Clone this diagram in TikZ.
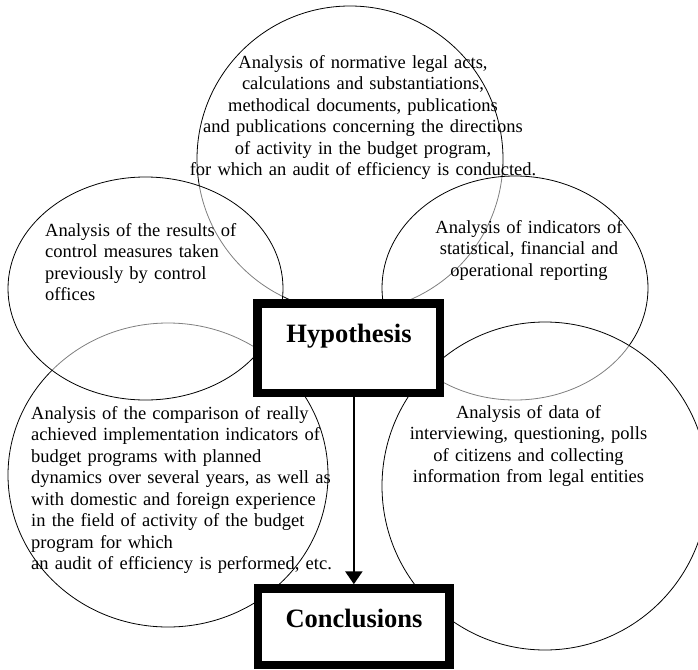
\documentclass[tikz,border=0pt]{standalone}
\usepackage{fontspec}
\setmainfont{Liberation Serif}
\usetikzlibrary{shapes.geometric,arrows.meta}

\tikzset{
  bubble/.style={ellipse, draw=black, line width=0.8pt, fill=white, fill opacity=0.5,
    inner sep=0pt, outer sep=0pt},
  bodytext/.style={inner sep=0pt, text=black, font=\fontsize{18.5}{21.5}\selectfont},
  ctrtext/.style={bodytext, text width=420pt, align=center, anchor=base},
  lefttext/.style={bodytext, text width=330pt, align=left, anchor=base west},
  stagebox/.style={draw=black, line width=8.5pt, fill=white, inner sep=0pt},
  stagetext/.style={inner sep=0pt, anchor=base, font=\fontsize{26.5}{30}\selectfont\bfseries},
  flow/.style={line width=2.6pt, -{Triangle[width=17pt,length=13pt]}}
}

\begin{document}
\begin{tikzpicture}[x=1pt,y=-1pt]
\useasboundingbox (0,0) rectangle (698,669);
\clip (0,0) rectangle (698,669);

% source bubbles, back to front
\node[bubble, minimum width=306pt, minimum height=306pt] (acts) at (350,159) {};
\node[bubble, minimum width=320pt, minimum height=304pt] (compare) at (168,475) {};
\node[bubble, minimum width=275pt, minimum height=223pt] (control) at (145.5,288.5) {};
\node[bubble, minimum width=266pt, minimum height=224pt] (report) at (515,288) {};
\node[bubble, minimum width=326pt, minimum height=328pt] (polls) at (545,486) {};

% bubble texts
\node[ctrtext] (actstext) at (363,68) {Analysis of normative legal acts,\\
  calculations and substantiations,\\
  methodical documents, publications\\
  and publications concerning the directions\\
  of activity in the budget program,\\
  for which an audit of efficiency is conducted.};
\node[lefttext] (controltext) at (45,236) {Analysis of the results of\\
  control measures taken\\
  previously by control\\
  offices};
\node[ctrtext] (reporttext) at (529,233) {Analysis of indicators of\\
  statistical, financial and\\
  operational reporting};
\node[lefttext] (comparetext) at (31,419) {Analysis of the comparison of really\\
  achieved implementation indicators of\\
  budget programs with planned\\
  dynamics over several years, as well as\\
  with domestic and foreign experience\\
  in the field of activity of the budget\\
  program for which\\
  an audit of efficiency is performed, etc.};
\node[ctrtext] (pollstext) at (528.5,418) {Analysis of data of\\
  interviewing, questioning, polls\\
  of citizens and collecting\\
  information from legal entities};

% hypothesis and conclusions
\node[stagebox, minimum width=182.5pt, minimum height=89.7pt] (hyp) at (348.75,348.15) {};
\node[stagetext] (hyplabel) at (349,342) {Hypothesis};
\node[stagebox, minimum width=191.7pt, minimum height=76.5pt] (concl) at (353.85,626.75) {};
\node[stagetext] (concllabel) at (354,627) {Conclusions};

\draw[flow] (hyp.south -| concl.north) -- (concl.north);
\end{tikzpicture}
\end{document}
